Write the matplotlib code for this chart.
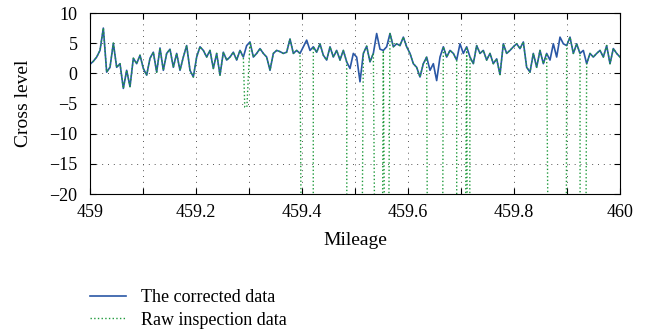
import matplotlib
matplotlib.use("Agg")
import matplotlib.pyplot as plt
import numpy as np

plt.rcParams['font.family'] = ['Liberation Serif', 'DejaVu Serif']

corrected = [
    1.5, 2.0, 2.7, 3.8, 7.5, 0.2, 1.0, 5.0, 1.0, 1.6,
    -2.5, 0.5, -2.2, 2.5, 1.6, 3.0, 0.8, -0.3, 2.5, 3.5,
    0.2, 4.2, 0.5, 3.3, 4.0, 1.0, 3.3, 0.5, 2.7, 4.6,
    0.5, -0.6, 2.7, 4.4, 3.8, 2.7, 3.8, 0.8, 3.3, -0.3,
    3.5, 2.2, 2.7, 3.5, 2.2, 3.8, 2.7, 4.6, 5.2, 2.7,
    3.3, 4.1, 3.3, 2.7,
    0.5, 3.3, 3.8, 3.6, 3.3, 3.5, 5.7, 3.3, 3.8, 3.3,
    4.4, 5.5, 3.8, 4.4, 3.5, 4.9, 3.0, 2.2, 4.4, 2.7,
    3.8, 2.2, 3.8, 1.9, 0.8, 3.3, 2.7, -1.4, 3.3, 4.5,
    1.9, 3.3, 6.6, 4.0, 3.8, 4.4, 6.6, 4.4, 4.9, 4.6,
    6.0, 4.4, 3.3, 1.6, 1.0, -0.6, 1.6, 2.7, 0.5, 1.6,
    -1.2, 2.7, 4.4,
    2.7, 3.8, 3.3, 2.2, 4.9, 3.3, 4.4, 2.7, 1.6, 4.6,
    3.3, 3.8, 2.2, 3.3, 1.6, 2.4, -0.2, 4.9, 3.3, 3.8,
    4.4, 4.9, 4.1, 5.2, 1.0, 0.2, 3.3, 1.0, 3.8, 1.6,
    3.3, 2.2, 4.9, 2.7, 6.0, 4.9, 4.6, 6.0, 3.3, 4.9,
    3.3, 3.8, 1.6, 3.3, 2.7, 3.3, 3.8, 2.7, 4.6, 1.6,
    4.1, 3.3, 2.7,
]
mileage = np.linspace(459.0, 460.0, len(corrected))

# dropouts in the raw inspection data (start, end, level)
dropouts = [
    (459.292, 459.296, -5.6),
    (459.401, 459.421, -60),
    (459.485, 459.511, -60),
    (459.540, 459.550, -60),
    (459.558, 459.561, -60),
    (459.638, 459.664, -60),
    (459.692, 459.706, -60),
    (459.713, 459.716, -60),
    (459.867, 459.898, -60),
    (459.925, 459.934, -60),
]

# raw = corrected, with the dropouts put in
raw_x = list(mileage)
raw_y = list(corrected)
for a, b, lev in dropouts:
    keep = [(x, y) for x, y in zip(raw_x, raw_y) if x < a or x > b]
    keep += [(a, lev), (b, lev)]
    keep.sort()
    raw_x = [k[0] for k in keep]
    raw_y = [k[1] for k in keep]

fig = plt.figure(figsize=(6.57, 3.32), dpi=100)
ax = fig.add_axes([90/657, 1 - 194/332, 530/657, 181/332])

l1, = ax.plot(mileage, corrected, color='#2a57a5', lw=1.2)
l2, = ax.plot(raw_x, raw_y, color='#1f9a3c', lw=1.0, ls=':')

ax.set_xlim(459, 460)
ax.set_ylim(-20, 10)
xt = np.arange(459.0, 460.001, 0.1)
ax.set_xticks(xt)
ax.set_xticklabels(['%g' % round(v, 1) if i % 2 == 0 else '' for i, v in enumerate(xt)])
ax.set_yticks([-20, -15, -10, -5, 0, 5, 10])
ax.set_yticklabels(['\u221220', '\u221215', '\u221210', '\u22125', '0', '5', '10'])
ax.tick_params(direction='in', top=True, right=True, labelsize=13, length=4)
ax.tick_params(axis='x', pad=7)
ax.tick_params(axis='y', pad=9)
ax.grid(True, ls=(0, (1, 5)), color='#555555', lw=0.7)
ax.set_xlabel('Mileage', fontsize=14, labelpad=8)
ax.set_ylabel('Cross level', fontsize=14)
ax.yaxis.set_label_coords(-0.11, 0.5)

fig.legend([l1, l2], ['The corrected data', 'Raw inspection data'],
           loc='center left', bbox_to_anchor=(74/657, 1 - 309/332),
           frameon=False, fontsize=13, handlelength=2.0, handletextpad=0.8,
           labelspacing=0.3)

fig.savefig('out.png', dpi=100)
